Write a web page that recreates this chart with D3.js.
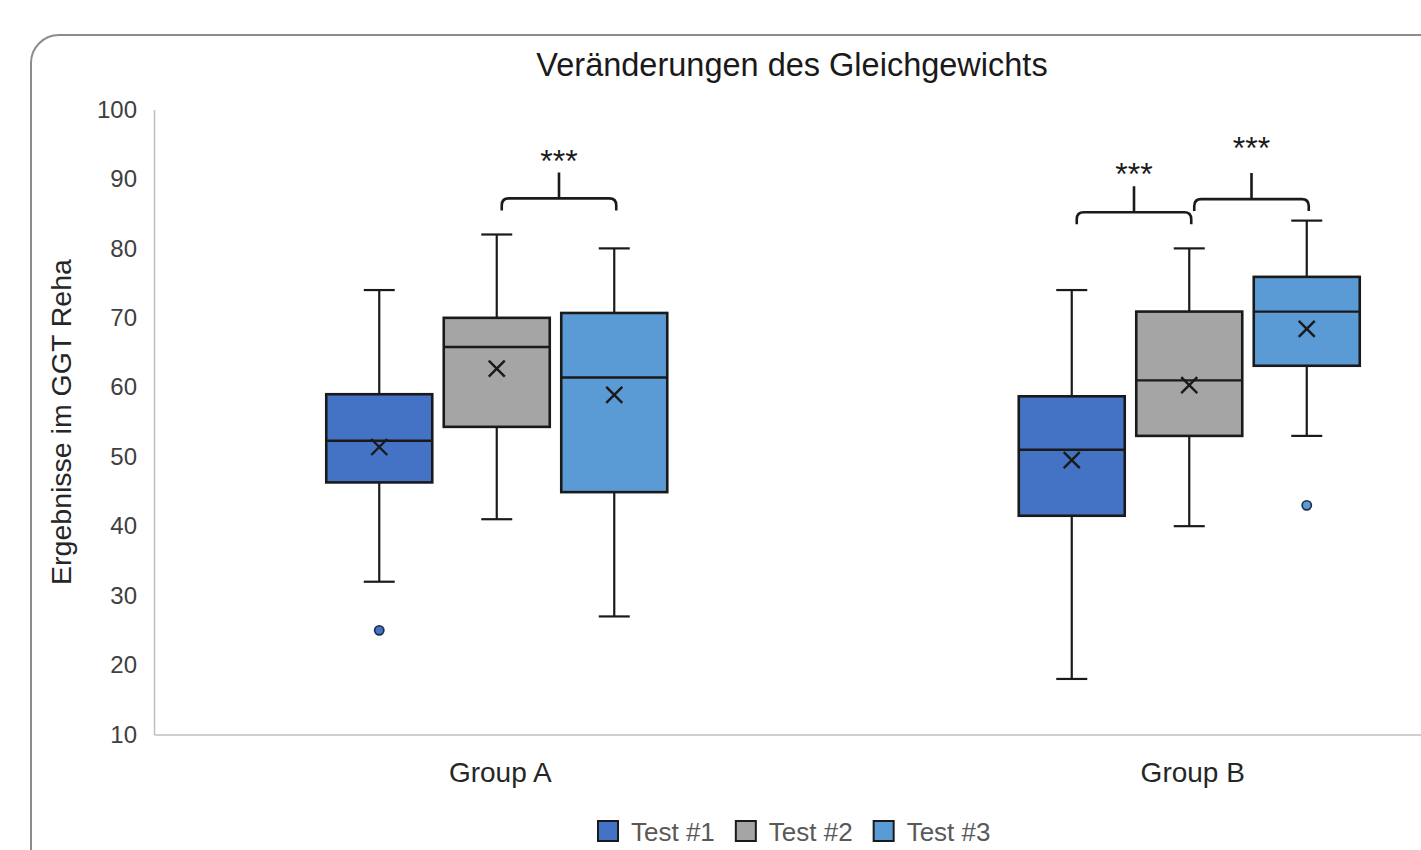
<!DOCTYPE html>
<html>
<head>
<meta charset="utf-8">
<script src="https://cdn.jsdelivr.net/npm/d3@7/dist/d3.min.js"></script>
<style>
  html, body { margin: 0; padding: 0; background: #fff; }
  svg { display: block; }
  text { font-family: "Liberation Sans", Arial, sans-serif; }
</style>
</head>
<body>
<svg id="chart" width="1421" height="850"></svg>
<script>
// ---------- data ----------
const titleText = "Veränderungen des Gleichgewichts";
const yTitle = "Ergebnisse im GGT Reha";
const groups = ["Group A", "Group B"];
const tests = ["Test #1", "Test #2", "Test #3"];
const yTicks = [10, 20, 30, 40, 50, 60, 70, 80, 90, 100];
// per group: [Test #1, Test #2, Test #3]
const whiskerLow  = [[32, 41, 27],       [18, 40, 53]];
const q1          = [[46.3, 54.3, 44.9], [41.5, 53, 63.1]];
const median      = [[52.3, 65.8, 61.4], [51, 61, 70.9]];
const q3          = [[59, 70, 70.7],     [58.7, 70.9, 75.9]];
const whiskerHigh = [[74, 82, 80],       [74, 80, 84]];
const means       = [[51.4, 62.7, 58.9], [49.5, 60.3, 68.4]];
const outliers    = [[[25], [], []],     [[], [], [43]]];
// significance brackets: group index, from test, to test, level (axis units)
const bracketGroup = [0, 1, 1];
const bracketFrom  = [1, 0, 1];
const bracketTo    = [2, 1, 2];
const bracketLevel = [87.2, 85.2, 87.1];
const labelLevel   = [93.2, 91.3, 95.1];
const bracketLabel = ["***", "***", "***"];

// ---------- style ----------
const palette = ["#4472C4", "#A5A5A5", "#5B9BD5"];
const font = '"Liberation Sans", Arial, sans-serif';

const svg = d3.select("#chart");

// frame (extends beyond the visible area on right / bottom)
svg.append("rect")
  .attr("x", 31).attr("y", 35)
  .attr("width", 1522).attr("height", 860)
  .attr("rx", 28).attr("ry", 28)
  .attr("fill", "#fff").attr("stroke", "#8c8c8c").attr("stroke-width", 2);

const plotLeft = 154, plotRight = 1539, plotTop = 109.5, plotBottom = 734.5;

const y = d3.scaleLinear().domain([10, 100]).range([plotBottom, plotTop]);
const x = d3.scaleBand().domain(groups).range([plotLeft, plotRight]).padding(0);
const inner = d3.scalePoint().domain(tests).range([-121, 114]);
const boxW = 106, capW = 31;
const cx = (g, t) => x(groups[g]) + x.bandwidth() / 2 + inner(tests[t]);

// axes
const yAxis = d3.axisLeft(y).tickValues(yTicks).tickSize(0).tickPadding(17);
const gy = svg.append("g").attr("transform", `translate(${plotLeft},0)`).call(yAxis);
gy.select(".domain").attr("stroke", "#bfbfbf").attr("stroke-width", 1.5);
gy.selectAll("text").attr("font-family", font).attr("font-size", 24).attr("fill", "#404040");

const xAxis = d3.axisBottom(x).tickSize(0).tickPadding(28);
const gx = svg.append("g").attr("transform", `translate(0,${plotBottom})`).call(xAxis);
gx.select(".domain").attr("stroke", "#bfbfbf").attr("stroke-width", 1.5);
gx.selectAll("text").attr("font-family", font).attr("font-size", 28).attr("fill", "#262626");

// title
svg.append("text").attr("x", 792).attr("y", 76).attr("text-anchor", "middle")
  .attr("font-size", 32.5).attr("fill", "#1a1a1a").text(titleText);

// y title
svg.append("text")
  .attr("transform", `translate(71,${(plotTop + plotBottom) / 2}) rotate(-90)`)
  .attr("text-anchor", "middle").attr("font-size", 28.5).attr("fill", "#262626")
  .text(yTitle);

// boxes
const boxes = [];
groups.forEach((g, gi) => tests.forEach((t, ti) => boxes.push({ gi, ti })));

const gb = svg.append("g");
boxes.forEach(({ gi, ti }) => {
  const c = cx(gi, ti);
  const s = gb.append("g");
  // whiskers
  s.append("line").attr("x1", c).attr("x2", c)
    .attr("y1", y(q3[gi][ti])).attr("y2", y(whiskerHigh[gi][ti]))
    .attr("stroke", "#1a1a1a").attr("stroke-width", 2.2);
  s.append("line").attr("x1", c).attr("x2", c)
    .attr("y1", y(q1[gi][ti])).attr("y2", y(whiskerLow[gi][ti]))
    .attr("stroke", "#1a1a1a").attr("stroke-width", 2.2);
  [whiskerHigh[gi][ti], whiskerLow[gi][ti]].forEach(v => {
    s.append("line").attr("x1", c - capW / 2).attr("x2", c + capW / 2)
      .attr("y1", y(v)).attr("y2", y(v))
      .attr("stroke", "#1a1a1a").attr("stroke-width", 2.2);
  });
  // box
  s.append("rect")
    .attr("x", c - boxW / 2).attr("width", boxW)
    .attr("y", y(q3[gi][ti])).attr("height", y(q1[gi][ti]) - y(q3[gi][ti]))
    .attr("fill", palette[ti]).attr("stroke", "#1a1a1a").attr("stroke-width", 2.6);
  // median
  s.append("line").attr("x1", c - boxW / 2).attr("x2", c + boxW / 2)
    .attr("y1", y(median[gi][ti])).attr("y2", y(median[gi][ti]))
    .attr("stroke", "#1a1a1a").attr("stroke-width", 2.4);
  // mean marker (x)
  const my = y(means[gi][ti]), h = 8;
  s.append("path")
    .attr("d", `M${c - h},${my - h}L${c + h},${my + h}M${c - h},${my + h}L${c + h},${my - h}`)
    .attr("stroke", "#1a1a1a").attr("stroke-width", 2.4).attr("fill", "none");
  // outliers
  outliers[gi][ti].forEach(v => {
    s.append("circle").attr("cx", c).attr("cy", y(v)).attr("r", 4.6)
      .attr("fill", palette[ti]).attr("stroke", "#1f2d4d").attr("stroke-width", 1.7);
  });
});

// brackets
bracketGroup.forEach((g, i) => {
  const x1 = cx(g, bracketFrom[i]) + 5;
  const x2 = cx(g, bracketTo[i]) + 2;
  const yh = y(bracketLevel[i]);
  const r = 7, drop = 12, stem = 26;
  const xm = (x1 + x2) / 2;
  const d = `M${x1},${yh + drop} L${x1},${yh + r} Q${x1},${yh} ${x1 + r},${yh}` +
            ` L${x2 - r},${yh} Q${x2},${yh} ${x2},${yh + r} L${x2},${yh + drop}` +
            ` M${xm},${yh} L${xm},${yh - stem}`;
  svg.append("path").attr("d", d).attr("fill", "none")
    .attr("stroke", "#1a1a1a").attr("stroke-width", 2.6).attr("stroke-linecap", "butt");
  svg.append("text").attr("x", xm).attr("y", y(labelLevel[i]) + 15)
    .attr("text-anchor", "middle").attr("font-size", 32).attr("fill", "#1a1a1a")
    .text(bracketLabel[i]);
});

// legend
const lg = svg.append("g");
let lx = 598;
const ly = 821, sq = 20;
tests.forEach((t, i) => {
  lg.append("rect").attr("x", lx).attr("y", ly).attr("width", sq).attr("height", sq)
    .attr("fill", palette[i]).attr("stroke", "#1a1a1a").attr("stroke-width", 2);
  const tx = lg.append("text").attr("x", lx + sq + 13).attr("y", ly + sq - 0.5)
    .attr("font-size", 26).attr("fill", "#595959").text(t);
  const w = tx.node().getComputedTextLength();
  lx = lx + sq + 13 + w + 21;
});
</script>
</body>
</html>
